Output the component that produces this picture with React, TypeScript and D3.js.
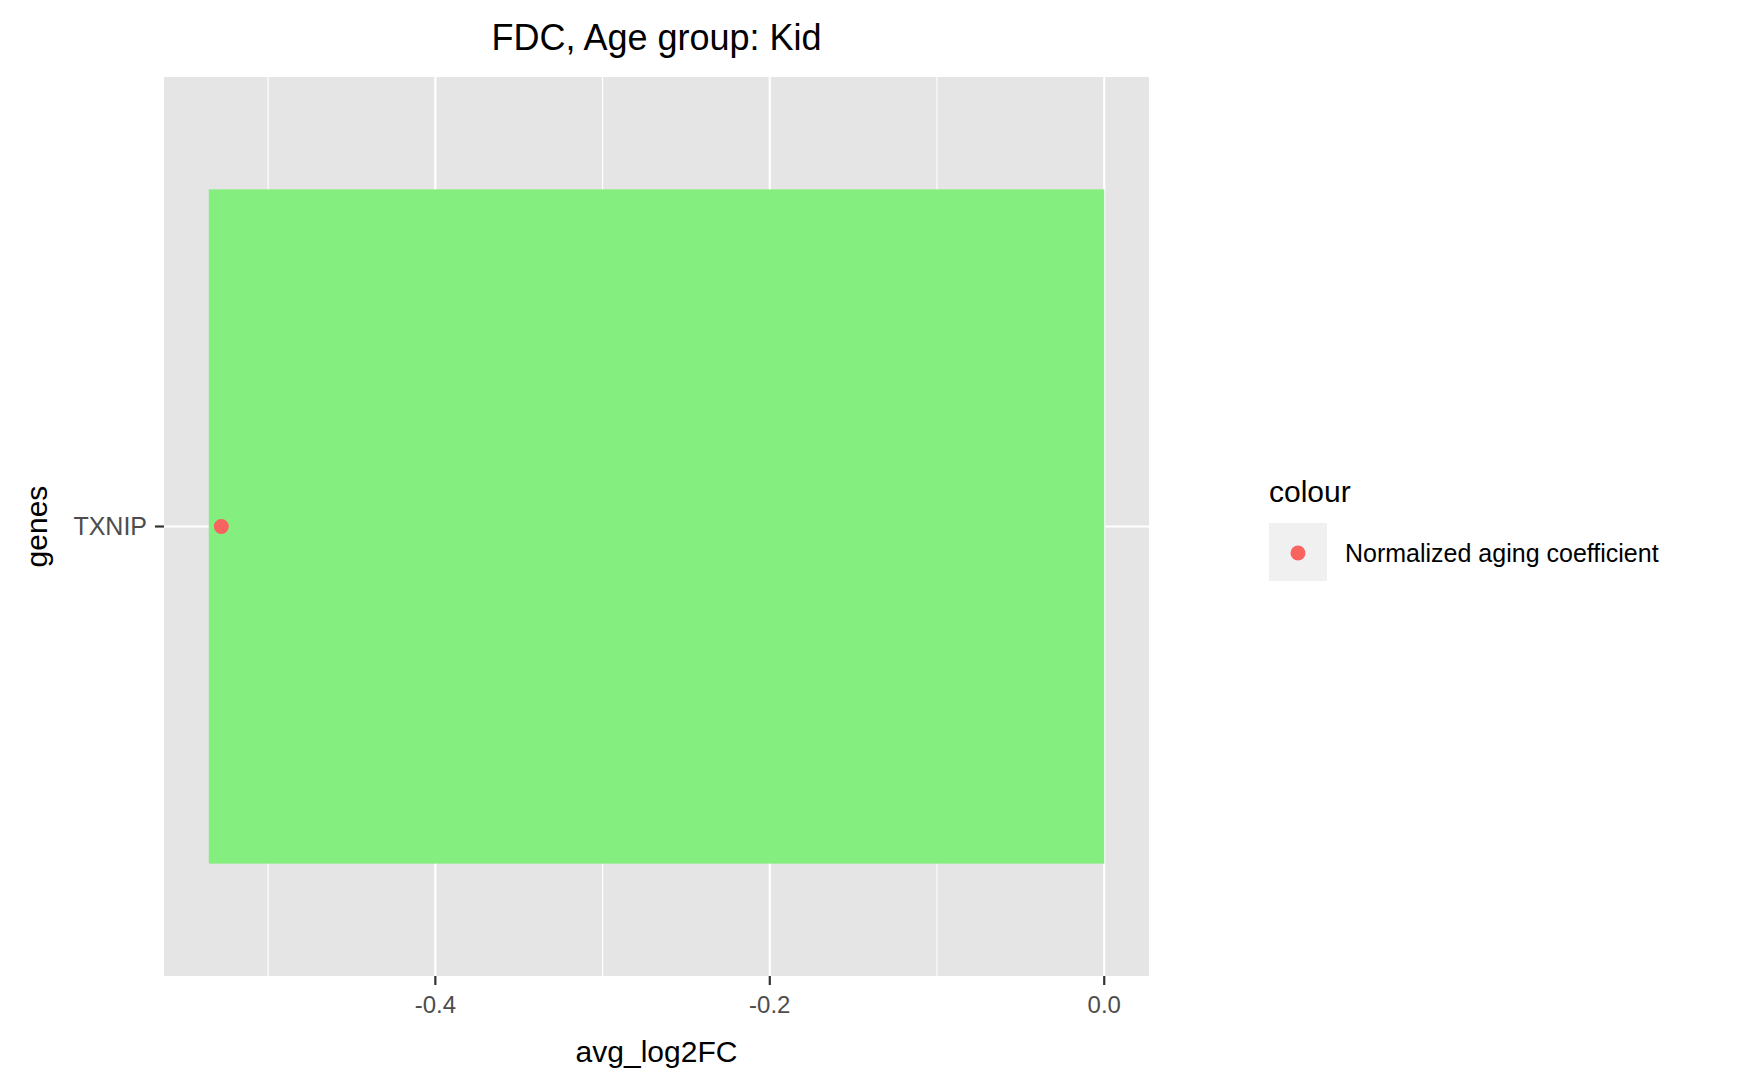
import * as d3 from "d3";
import React, { useRef, useEffect } from "react";

const genes: string[] = ["TXNIP"];
const log2fc: number[] = [-0.5355];
const agingCoef: number[] = [-0.528];
const xTicks: number[] = [-0.5, -0.4, -0.3, -0.2, -0.1, 0.0];
const xLabelTicks: number[] = [-0.4, -0.2, 0.0];

const App: React.FC = () => {
  const svgRef = useRef<SVGSVGElement>(null);

  useEffect(() => {
    const svg = d3.select(svgRef.current);
    svg.selectAll("*").remove();

    const width = 1750;
    const height = 1081;
    const left = 164, right = 1149, top = 77, bottom = 976;
    const font = "Liberation Sans, Arial, sans-serif";

    const lo = Math.min(d3.min(log2fc)!, d3.min(agingCoef)!, 0);
    const hi = Math.max(d3.max(log2fc)!, d3.max(agingCoef)!, 0);
    const pad = (hi - lo) * 0.05;
    const x = d3.scaleLinear().domain([lo - pad, hi + pad]).range([left, right]);

    // one discrete category: band of 0.9 inside +-0.6 expansion
    const y = d3.scaleLinear().domain([0.4, genes.length + 0.6]).range([bottom, top]);

    svg.attr("width", width).attr("height", height).attr("viewBox", `0 0 ${width} ${height}`);

    svg.append("rect").attr("x", left).attr("y", top)
      .attr("width", right - left).attr("height", bottom - top).attr("fill", "#e5e5e5");

    svg.append("g").selectAll("line").data(xTicks).join("line")
      .attr("x1", d => x(d)).attr("x2", d => x(d)).attr("y1", top).attr("y2", bottom)
      .attr("stroke", "white").attr("stroke-width", d => xLabelTicks.some(t => Math.abs(t - d) < 1e-9) ? 2.2 : 1.1);

    svg.append("g").selectAll("line").data(genes).join("line")
      .attr("x1", left).attr("x2", right).attr("y1", (d, i) => y(i + 1)).attr("y2", (d, i) => y(i + 1))
      .attr("stroke", "white").attr("stroke-width", 2.2);

    svg.append("g").selectAll("rect").data(log2fc).join("rect")
      .attr("x", d => x(Math.min(d, 0))).attr("width", d => Math.abs(x(d) - x(0)))
      .attr("y", (d, i) => y(i + 1.45)).attr("height", (d, i) => y(i + 0.55) - y(i + 1.45))
      .attr("fill", "#84ee7f");

    svg.append("g").selectAll("circle").data(agingCoef).join("circle")
      .attr("cx", d => x(d)).attr("cy", (d, i) => y(i + 1)).attr("r", 7.5).attr("fill", "#f8635f");

    // x axis
    const gx = svg.append("g").attr("font-family", font);
    gx.selectAll("line").data(xLabelTicks).join("line")
      .attr("x1", d => x(d)).attr("x2", d => x(d)).attr("y1", bottom).attr("y2", bottom + 9)
      .attr("stroke", "#333").attr("stroke-width", 2.2);
    gx.selectAll("text").data(xLabelTicks).join("text")
      .attr("x", d => x(d)).attr("y", bottom + 37).attr("text-anchor", "middle")
      .attr("font-size", 24).attr("fill", "#4d4d4d").text(d => d3.format(".1f")(d).replace("−", "-"));

    // y axis
    const gy = svg.append("g").attr("font-family", font);
    gy.selectAll("line").data(genes).join("line")
      .attr("x1", left - 9).attr("x2", left).attr("y1", (d, i) => y(i + 1)).attr("y2", (d, i) => y(i + 1))
      .attr("stroke", "#333").attr("stroke-width", 2.2);
    gy.selectAll("text").data(genes).join("text")
      .attr("x", left - 17).attr("y", (d, i) => y(i + 1)).attr("dy", "0.35em").attr("text-anchor", "end")
      .attr("font-size", 25).attr("fill", "#4d4d4d").text(d => d);

    svg.append("text").attr("x", (left + right) / 2).attr("y", 1062).attr("text-anchor", "middle")
      .attr("font-family", font).attr("font-size", 30).text("avg_log2FC");
    svg.append("text").attr("transform", `translate(47,${(top + bottom) / 2}) rotate(-90)`)
      .attr("text-anchor", "middle").attr("font-family", font).attr("font-size", 30).text("genes");
    svg.append("text").attr("x", (left + right) / 2).attr("y", 50).attr("text-anchor", "middle")
      .attr("font-family", font).attr("font-size", 36).text("FDC, Age group: Kid");

    // legend
    const lg = svg.append("g").attr("font-family", font);
    lg.append("text").attr("x", 1269).attr("y", 502).attr("font-size", 30).text("colour");
    lg.append("rect").attr("x", 1269).attr("y", 523).attr("width", 58).attr("height", 58).attr("fill", "#f0f0f0");
    lg.append("circle").attr("cx", 1298).attr("cy", 553).attr("r", 7.5).attr("fill", "#f8635f");
    lg.append("text").attr("x", 1345).attr("y", 553).attr("dy", "0.35em").attr("font-size", 25)
      .text("Normalized aging coefficient");
  }, []);

  return <svg ref={svgRef} style={{ position: "absolute", left: 0, top: 0 }}></svg>;
};

export default App;
